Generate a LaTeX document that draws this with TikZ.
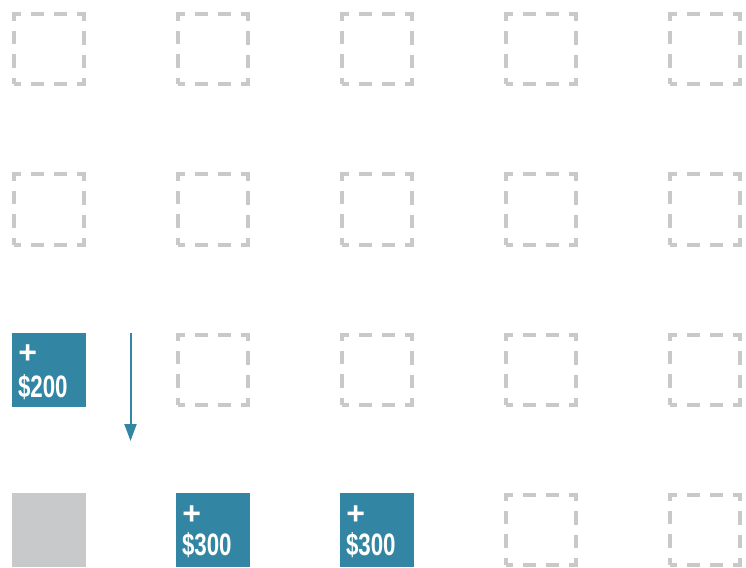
\documentclass[tikz,border=0pt]{standalone}
\usepackage{fontspec}
\setmainfont{Liberation Sans}
\usetikzlibrary{arrows.meta,calc}
\definecolor{teal1}{HTML}{3385A4}
\definecolor{grayfill}{HTML}{C8C9CB}
\definecolor{dashgray}{HTML}{C9C9C9}
\tikzset{
  emptybox/.style={rectangle, draw=dashgray, line width=4bp, minimum size=70bp, inner sep=0pt,
    dash pattern=on 13.33bp off 10bp, dash phase=6.67bp},
  tealbox/.style={rectangle, fill=teal1, minimum size=74bp, inner sep=0pt},
  graybox/.style={rectangle, fill=grayfill, minimum size=74bp, inner sep=0pt},
  plustext/.style={text=white, font=\bfseries\fontsize{32bp}{36bp}\selectfont, inner sep=0pt, anchor=center},
  amounttext/.style={text=white, font=\bfseries\fontsize{31bp}{36bp}\selectfont, inner sep=0pt, anchor=base west},
  flowarrow/.style={draw=teal1, line width=2bp, -{Triangle[width=12bp,length=17bp]}}
}
\begin{document}
\begin{tikzpicture}[x=1bp,y=-1bp]
\useasboundingbox (0,0) rectangle (746,568);
% row 1
\node[emptybox] (r1c1) at (49,49.5) {};
\node[emptybox] (r1c2) at (213,49.5) {};
\node[emptybox] (r1c3) at (377,49.5) {};
\node[emptybox] (r1c4) at (541,49.5) {};
\node[emptybox] (r1c5) at (705,49.5) {};
% row 2
\node[emptybox] (r2c1) at (49,209.5) {};
\node[emptybox] (r2c2) at (213,209.5) {};
\node[emptybox] (r2c3) at (377,209.5) {};
\node[emptybox] (r2c4) at (541,209.5) {};
\node[emptybox] (r2c5) at (705,209.5) {};
% row 3
\node[tealbox] (r3c1) at (49,369.5) {};
\node[emptybox] (r3c2) at (213,369.5) {};
\node[emptybox] (r3c3) at (377,369.5) {};
\node[emptybox] (r3c4) at (541,369.5) {};
\node[emptybox] (r3c5) at (705,369.5) {};
% row 4
\node[graybox] (r4c1) at (49,529.5) {};
\node[tealbox] (r4c2) at (213,529.5) {};
\node[tealbox] (r4c3) at (377,529.5) {};
\node[emptybox] (r4c4) at (541,529.5) {};
\node[emptybox] (r4c5) at (705,529.5) {};
% labels
\node[plustext] (p1) at ($(r3c1.north west)+(16,21.5)$) {+};
\node[amounttext] (a1) at ($(r3c1.north west)+(6,65)$) {\scalebox{0.72}[1]{\$200}};
\node[plustext] (p2) at ($(r4c2.north west)+(16,22.5)$) {+};
\node[amounttext] (a2) at ($(r4c2.north west)+(6,63)$) {\scalebox{0.72}[1]{\$300}};
\node[plustext] (p3) at ($(r4c3.north west)+(16,22.5)$) {+};
\node[amounttext] (a3) at ($(r4c3.north west)+(6,63)$) {\scalebox{0.72}[1]{\$300}};
% arrow
\coordinate (arrS) at (130.5,333);
\coordinate (arrE) at (130.5,441);
\draw[flowarrow] (arrS) -- (arrE);
\end{tikzpicture}
\end{document}
